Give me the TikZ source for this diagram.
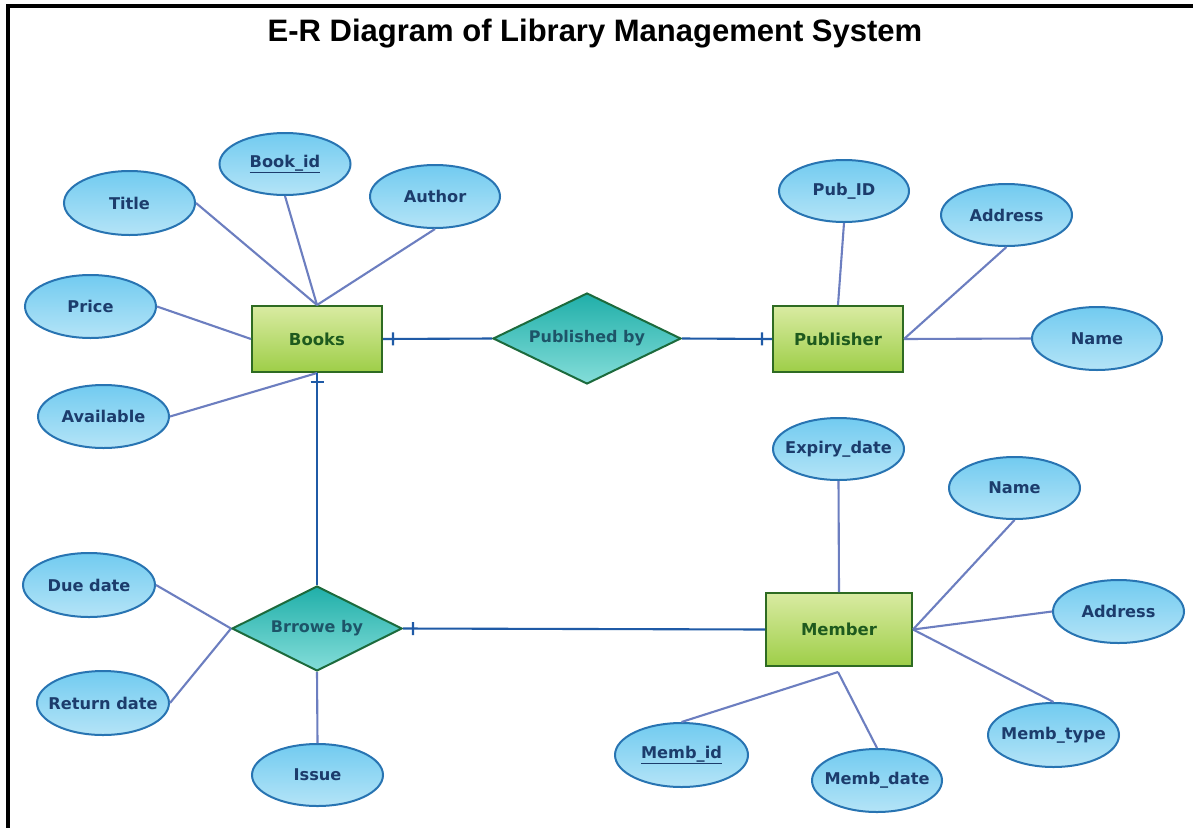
\documentclass[tikz,border=0pt]{standalone}
\usepackage{fontspec}
\setmainfont{DejaVu Sans}
\newfontfamily\titlefont{Liberation Sans}
\usetikzlibrary{shapes.geometric,decorations.markings}

\definecolor{ellTop}{HTML}{72CBF0}
\definecolor{ellBot}{HTML}{B4E4F7}
\definecolor{ellLine}{HTML}{2874B2}
\definecolor{ellText}{HTML}{1C3C6C}
\definecolor{entTop}{HTML}{D9EBA2}
\definecolor{entBot}{HTML}{9ECE48}
\definecolor{entLine}{HTML}{2E6B22}
\definecolor{entText}{HTML}{1E5A1E}
\definecolor{relTop}{HTML}{20AFA9}
\definecolor{relBot}{HTML}{84DDD9}
\definecolor{relLine}{HTML}{1C6A3C}
\definecolor{relText}{HTML}{1D5468}
\definecolor{attrWire}{HTML}{6C7EC0}
\definecolor{relWire}{HTML}{1F5AA6}

% labels take no width, so every shape keeps its set size
\newcommand{\lbl}[1]{\makebox[0pt][c]{#1}}

\tikzset{
  attr/.style={ellipse, draw=ellLine, line width=2pt, top color=ellTop, bottom color=ellBot,
    minimum width=131pt, minimum height=62pt, inner sep=0pt,
    font=\fontsize{16.2}{18}\selectfont\bfseries, text=ellText},
  entity/.style={rectangle, draw=entLine, line width=2pt, top color=entTop, bottom color=entBot,
    minimum width=130pt, minimum height=66pt, inner sep=0pt,
    font=\fontsize{16.5}{19}\selectfont\bfseries, text=entText},
  relation/.style={diamond, draw=relLine, line width=2pt, top color=relTop, bottom color=relBot,
    inner sep=0pt, font=\fontsize{16}{18}\selectfont\bfseries, text=relText},
  attrline/.style={draw=attrWire, line width=2.1pt},
  relline/.style={draw=relWire, line width=2.1pt},
  tickstart/.style={postaction={decorate, decoration={markings,
    mark=at position #1 with {\draw[relWire, line width=2.1pt] (0,-6.5pt) -- (0,6.5pt);}}}},
}

\begin{document}
\begin{tikzpicture}[x=1pt, y=-1pt]
  \useasboundingbox (0,0) rectangle (1193,827);
  \fill[white] (0,0) rectangle (1193,827);
  \clip (0,0) rectangle (1193,827);

  % outer frame
  \draw[black, line width=3.2pt] (8,840) -- (8,6) -- (1200,6);

  % heading
  \node (heading) at (595,34) {\titlefont\fontsize{31}{34}\selectfont\bfseries E-R Diagram of Library Management System};

  % entities
  \node[entity] (books) at (317,339) {Books};
  \node[entity] (publisher) at (838,339) {Publisher};
  \node[entity, minimum width=146pt, minimum height=73pt] (member) at (839,629.5) {Member};

  % relationships
  \node[relation, minimum width=188pt, minimum height=91pt] (pubby) at (587,338.5) {\lbl{Published by}};
  \node[relation, minimum width=170pt, minimum height=85pt] (borrow) at (317,628.5) {\lbl{Brrowe by}};

  % attributes of Books
  \node[attr] (bookid) at (285,164) {\lbl{\underline{Book\_id}}};
  \node[attr, minimum height=64pt] (title) at (129.5,203) {\lbl{Title}};
  \node[attr, minimum width=130pt, minimum height=63pt] (author) at (435,196.5) {\lbl{Author}};
  \node[attr, minimum height=63pt] (price) at (90.5,306.5) {\lbl{Price}};
  \node[attr, minimum height=63pt] (available) at (103.5,416.5) {\lbl{Available}};

  % attributes of Publisher
  \node[attr, minimum width=130pt] (pubid) at (844,191) {\lbl{Pub\_ID}};
  \node[attr] (pubaddr) at (1006.5,215) {\lbl{Address}};
  \node[attr, minimum width=130pt, minimum height=63pt] (pubname) at (1097,338.5) {\lbl{Name}};

  % attributes of Member
  \node[attr] (expiry) at (838.5,449) {\lbl{Expiry\_date}};
  \node[attr] (memname) at (1014.5,488) {\lbl{Name}};
  \node[attr, minimum height=63pt] (memaddr) at (1118.5,611.5) {\lbl{Address}};
  \node[attr, minimum height=64pt] (membtype) at (1053.5,735) {\lbl{Memb\_type}};
  \node[attr, minimum width=130pt, minimum height=63pt] (membdate) at (877,780.5) {\lbl{Memb\_date}};
  \node[attr, minimum width=133pt, minimum height=64pt] (membid) at (681.5,755) {\lbl{\underline{Memb\_id}}};
  \coordinate (memjoin) at (838,672);

  % attributes of the borrowing
  \node[attr, minimum width=132pt, minimum height=64pt] (duedate) at (89,585) {\lbl{Due date}};
  \node[attr, minimum width=132pt, minimum height=64pt] (retdate) at (103,703) {\lbl{Return date}};
  \node[attr] (issue) at (317.5,775) {\lbl{Issue}};

  % attribute connectors
  \draw[attrline] (bookid.south) -- (books.north);
  \draw[attrline] (title.east) -- (books.north);
  \draw[attrline] (author.south) -- (books.north);
  \draw[attrline] (price.east) -- (books.west);
  \draw[attrline] (available.east) -- (books.south);

  \draw[attrline] (pubid.south) -- (publisher.north);
  \draw[attrline] (pubaddr.south) -- (publisher.east);
  \draw[attrline] (pubname.west) -- (publisher.east);

  \draw[attrline] (expiry.south) -- (member.north);
  \draw[attrline] (memname.south) -- (member.east);
  \draw[attrline] (memaddr.west) -- (member.east);
  \draw[attrline] (membtype.north) -- (member.east);
  \draw[attrline] (membid.north) -- (memjoin);
  \draw[attrline] (membdate.north) -- (memjoin);

  \draw[attrline] (duedate.east) -- (borrow.west);
  \draw[attrline] (retdate.east) -- (borrow.west);
  \draw[attrline] (issue.north) -- (borrow.south);

  % relationship connectors with one-side ticks
  \draw[relline, tickstart=10pt] (books.east) -- (pubby.west);
  \draw[relline, tickstart=-10pt] (pubby.east) -- (publisher.west);
  \draw[relline, tickstart=9pt] (books.south) -- (borrow.north);
  \draw[relline, tickstart=10pt] (borrow.east) -- (member.west);
\end{tikzpicture}
\end{document}
